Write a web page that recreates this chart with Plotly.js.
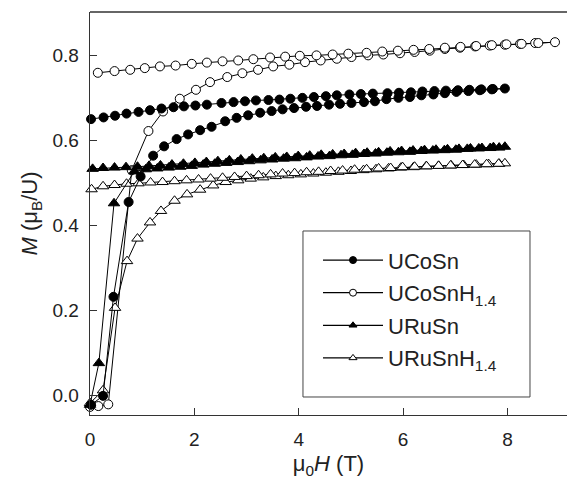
<!DOCTYPE html>
<html><head><meta charset="utf-8">
<script src="https://cdn.plot.ly/plotly-3.0.1.min.js"></script>
<style>html,body{margin:0;padding:0;background:#fff}#plot{width:567px;height:479px}</style>
</head><body><div id="plot"></div>
<script>
// Series names
const names = ["UCoSn", "UCoSnH<sub>1.4</sub>", "URuSn", "URuSnH<sub>1.4</sub>"];

// UCoSn: virgin curve then decreasing branch
const ucosnH = [0.02, 0.25, 0.45, 0.74, 0.97, 1.21, 1.42, 1.66, 1.88, 2.11, 2.33, 2.59, 2.81, 3.03, 3.26, 3.48, 3.69, 3.91, 4.14, 4.35, 4.58, 4.79, 5.01, 5.25, 5.46, 5.68, 5.91, 6.13, 6.35, 6.58, 6.80, 7.02, 7.25, 7.47, 7.70, 7.95,
  7.72, 7.50, 7.27, 7.05, 6.82, 6.60, 6.37, 6.15, 5.92, 5.70, 5.42, 5.19, 4.97, 4.73, 4.52, 4.29, 4.07, 3.84, 3.63, 3.42, 3.18, 2.97, 2.75, 2.52, 2.24, 2.02, 1.80, 1.60, 1.37, 1.15, 0.93, 0.70, 0.48, 0.26, 0.02];
const ucosnM = [-0.022, -0.001, 0.232, 0.455, 0.515, 0.564, 0.586, 0.603, 0.614, 0.624, 0.632, 0.645, 0.653, 0.659, 0.665, 0.669, 0.673, 0.676, 0.679, 0.681, 0.684, 0.686, 0.688, 0.690, 0.692, 0.697, 0.700, 0.702, 0.706, 0.708, 0.711, 0.714, 0.716, 0.718, 0.720, 0.722,
  0.721, 0.720, 0.719, 0.718, 0.717, 0.716, 0.715, 0.713, 0.712, 0.711, 0.710, 0.709, 0.708, 0.706, 0.704, 0.702, 0.700, 0.698, 0.696, 0.695, 0.694, 0.692, 0.690, 0.688, 0.684, 0.682, 0.680, 0.678, 0.675, 0.671, 0.667, 0.663, 0.658, 0.654, 0.650];

// UCoSnH1.4
const ucosnhH = [0.00, 0.16, 0.35, 0.80, 1.12, 1.40, 1.72, 2.03, 2.30, 2.63, 2.92, 3.22, 3.51, 3.82, 4.12, 4.42, 4.73, 5.01, 5.33, 5.62, 5.94, 6.22, 6.51, 6.80, 7.09, 7.38, 7.66, 7.95, 8.24, 8.53, 8.91,
  8.59, 8.27, 7.98, 7.70, 7.40, 7.10, 6.80, 6.50, 6.20, 5.90, 5.60, 5.30, 4.95, 4.65, 4.34, 4.02, 3.74, 3.45, 3.13, 2.84, 2.54, 2.24, 1.95, 1.64, 1.34, 1.05, 0.77, 0.47, 0.15];
const ucosnhM = [-0.027, -0.025, -0.021, 0.530, 0.622, 0.668, 0.698, 0.719, 0.737, 0.749, 0.758, 0.766, 0.774, 0.778, 0.784, 0.788, 0.792, 0.796, 0.800, 0.802, 0.805, 0.808, 0.811, 0.815, 0.818, 0.821, 0.823, 0.825, 0.827, 0.829, 0.831,
  0.829, 0.827, 0.826, 0.824, 0.822, 0.820, 0.818, 0.815, 0.813, 0.811, 0.809, 0.806, 0.804, 0.802, 0.800, 0.799, 0.797, 0.795, 0.791, 0.788, 0.786, 0.783, 0.780, 0.776, 0.774, 0.770, 0.766, 0.763, 0.759];

// URuSn
const urusnH = [0.00, 0.17, 0.46, 0.85, 1.07, 1.29, 1.51, 1.73, 1.95, 2.17, 2.39, 2.61, 2.83, 3.05, 3.27, 3.49, 3.71, 3.93, 4.15, 4.37, 4.59, 4.81, 5.03, 5.25, 5.47, 5.69, 5.91, 6.13, 6.35, 6.57, 6.79, 7.01, 7.23, 7.45, 7.67, 7.84,
  7.95, 7.73, 7.51, 7.29, 7.07, 6.85, 6.63, 6.41, 6.19, 5.97, 5.75, 5.53, 5.31, 5.09, 4.87, 4.65, 4.43, 4.21, 3.99, 3.77, 3.55, 3.33, 3.11, 2.89, 2.67, 2.45, 2.23, 2.01, 1.79, 1.57, 1.35, 1.13, 0.91, 0.69, 0.47, 0.25, 0.05];
const urusnM = [-0.022, 0.076, 0.452, 0.527, 0.532, 0.534, 0.536, 0.538, 0.540, 0.543, 0.545, 0.547, 0.549, 0.551, 0.553, 0.555, 0.557, 0.558, 0.560, 0.562, 0.563, 0.565, 0.566, 0.568, 0.569, 0.571, 0.572, 0.573, 0.575, 0.576, 0.577, 0.578, 0.580, 0.581, 0.582, 0.583,
  0.585, 0.584, 0.582, 0.581, 0.580, 0.579, 0.578, 0.577, 0.576, 0.575, 0.574, 0.572, 0.571, 0.570, 0.568, 0.567, 0.566, 0.564, 0.563, 0.561, 0.560, 0.558, 0.557, 0.555, 0.553, 0.551, 0.549, 0.547, 0.545, 0.543, 0.541, 0.540, 0.538, 0.537, 0.536, 0.535, 0.533];

// URuSnH1.4
const urusnhH = [0.00, 0.25, 0.48, 0.71, 0.91, 1.15, 1.36, 1.62, 1.86, 2.11, 2.36, 2.60, 2.84, 3.08, 3.32, 3.56, 3.80, 4.04, 4.28, 4.52, 4.76, 5.00, 5.24, 5.48, 5.72, 5.96, 6.20, 6.44, 6.68, 6.92, 7.16, 7.40, 7.64, 7.84,
  7.95, 7.83, 7.60, 7.37, 7.14, 6.91, 6.68, 6.45, 6.22, 5.99, 5.76, 5.53, 5.30, 5.07, 4.84, 4.61, 4.38, 4.15, 3.92, 3.69, 3.46, 3.23, 3.00, 2.77, 2.54, 2.31, 2.08, 1.85, 1.62, 1.39, 1.16, 0.93, 0.70, 0.47, 0.25, 0.03];
const urusnhM = [-0.018, 0.012, 0.206, 0.316, 0.369, 0.407, 0.434, 0.458, 0.473, 0.484, 0.494, 0.502, 0.506, 0.510, 0.513, 0.516, 0.518, 0.520, 0.522, 0.524, 0.526, 0.528, 0.530, 0.532, 0.534, 0.536, 0.537, 0.539, 0.540, 0.541, 0.542, 0.543, 0.544, 0.545,
  0.546, 0.545, 0.544, 0.543, 0.542, 0.541, 0.540, 0.539, 0.538, 0.537, 0.535, 0.534, 0.532, 0.531, 0.529, 0.528, 0.526, 0.525, 0.523, 0.522, 0.520, 0.518, 0.516, 0.514, 0.512, 0.510, 0.508, 0.506, 0.504, 0.502, 0.501, 0.499, 0.498, 0.495, 0.492, 0.485];

const xTicks = [0, 2, 4, 6, 8];
const yTicks = [0.0, 0.2, 0.4, 0.6, 0.8];
const yTickText = ["0.0", "0.2", "0.4", "0.6", "0.8"];

const symbols = ["circle", "circle-open", "triangle-up", "triangle-up-open"];
const xs = [ucosnH, ucosnhH, urusnH, urusnhH];
const ys = [ucosnM, ucosnhM, urusnM, urusnhM];

const traces = [];
[1, 3, 0, 2].forEach(i => {
  const open = symbols[i].indexOf("open") >= 0;
  traces.push({
    x: xs[i], y: ys[i], type: "scatter", mode: "lines+markers",
    showlegend: false, cliponaxis: false,
    line: {color: "#000", width: 1},
    marker: {symbol: open ? symbols[i].replace("-open", "") : symbols[i],
             size: i >= 2 ? 10 : 9,
             color: open ? "#fff" : "#000",
             line: {color: "#000", width: 1}}
  });
});
names.forEach((n, i) => {
  const open = symbols[i].indexOf("open") >= 0;
  traces.push({
    x: [null], y: [null], type: "scatter", mode: "lines+markers",
    name: n, legendgroup: "g" + i, showlegend: true,
    line: {color: "#000", width: 1.3},
    marker: {symbol: open ? symbols[i].replace("-open", "") : symbols[i], size: 7,
             color: open ? "#fff" : "#000", line: {color: "#000", width: 1}}
  });
});

const layout = {
  width: 567, height: 479,
  margin: {l: 90, r: 0, t: 12, b: 64},
  paper_bgcolor: "#fff", plot_bgcolor: "#fff",
  font: {family: "Liberation Sans, Arial, sans-serif", color: "#222", size: 19},
  showlegend: true,
  legend: {x: 0.478, y: 0.436, xanchor: "left", yanchor: "top",
           bgcolor: "rgba(0,0,0,0)", borderwidth: 0,
           font: {size: 22, color: "#222"}, tracegroupgap: 1, itemwidth: 60,
           traceorder: "grouped"},
  xaxis: {range: [0, 9.14], tickvals: xTicks, ticktext: xTicks.map(String),
          ticks: "inside", ticklen: 7, tickwidth: 1, tickcolor: "#333",
          showline: true, linecolor: "#333", linewidth: 1.3, showgrid: false, zeroline: false,
          tickfont: {size: 19}, ticklabelstandoff: 7,
          title: {text: "μ<sub>0</sub><i>H</i> (T)", font: {size: 22}, standoff: 8}},
  yaxis: {range: [-0.046, 0.902], tickvals: yTicks, ticktext: yTickText,
          ticks: "inside", ticklen: 7, tickwidth: 1, tickcolor: "#333",
          showline: true, linecolor: "#333", linewidth: 1.3, showgrid: false, zeroline: false,
          tickfont: {size: 19}, ticklabelstandoff: 6,
          title: {text: "<i>M</i> (μ<sub>B</sub>/U)", font: {size: 22}, standoff: 8}},
  shapes: [
    {type: "line", xref: "paper", yref: "paper", x0: 0, x1: 1, y0: 1, y1: 1,
     line: {color: "#333", width: 1.3}},
    {type: "rect", xref: "paper", yref: "paper", x0: 0.4465, x1: 0.9224, y0: 0.0447, y1: 0.4566,
     fillcolor: "#fff", line: {color: "#444", width: 1}, layer: "above"}
  ]
};

Plotly.newPlot("plot", traces, layout, {displayModeBar: false, staticPlot: true});
</script></body></html>
